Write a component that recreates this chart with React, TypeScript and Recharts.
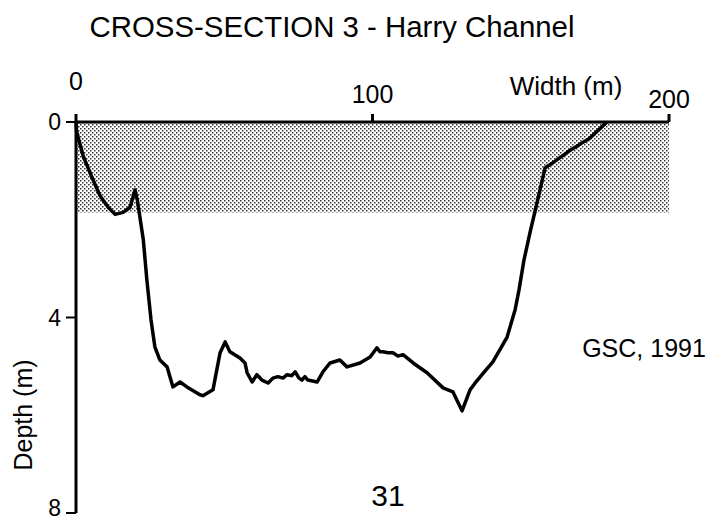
import { LineChart, Line, XAxis, YAxis, ReferenceArea } from "recharts";

const widthM = [
  0, 0.2, 2.5, 5.3, 8.1, 10.9, 13.2, 15.9, 18.2, 19.9, 20.7, 22.7, 23.9, 25.3,
  26.6, 28.3, 30.7, 32.7, 35.1, 37.4, 41.8, 42.8, 46.2, 48.6, 50.3, 51.9, 55.3,
  57.0, 57.7, 59.4, 61.0, 62.7, 64.8, 66.4, 68.1, 69.8, 71.2, 72.8, 73.9, 75.2,
  76.2, 77.2, 78.2, 81.3, 83.3, 85.7, 89.0, 91.4, 95.8, 99.2, 101.5, 102.5,
  103.5, 105.2, 106.9, 108.6, 110.3, 113.7, 118.4, 123.8, 127.1, 130.2, 132.9,
  134.5, 137.5, 140.6, 145.4, 148.1, 149.4, 151.1, 153.1, 156.5, 158.2, 161.6,
  165.9, 173.3, 179.1,
];
const depthM = [
  0, 0.2, 0.71, 1.12, 1.51, 1.75, 1.89, 1.85, 1.75, 1.39, 1.6, 2.41, 3.23, 4.05,
  4.6, 4.87, 5.01, 5.42, 5.32, 5.42, 5.58, 5.6, 5.48, 4.72, 4.5, 4.7, 4.83,
  4.93, 5.13, 5.32, 5.17, 5.28, 5.34, 5.24, 5.21, 5.24, 5.17, 5.19, 5.11, 5.24,
  5.28, 5.21, 5.28, 5.32, 5.11, 4.93, 4.87, 5.01, 4.93, 4.81, 4.62, 4.7, 4.7,
  4.72, 4.72, 4.79, 4.76, 4.93, 5.13, 5.44, 5.52, 5.91, 5.48, 5.35, 5.13, 4.91,
  4.4, 3.84, 3.44, 2.82, 2.27, 1.39, 0.94, 0.8, 0.61, 0.33, 0,
];
const widthTicks = [0, 100, 200];
const depthTicks = [0, 4, 8];
// shaded band (surface layer)
const bandDepth = 1.85;

const data = widthM.map((w, i) => ({ width: w, depth: depthM[i] }));

const FONT = '"Liberation Sans", Arial, Helvetica, sans-serif';

// the top labels sit at uneven heights in the original
const xTickOffset: Record<number, number> = { 0: -22, 100: -9, 200: -4 };

function WidthTick(props: any) {
  const { x, y, payload } = props;
  return (
    <text
      x={x}
      y={y + (xTickOffset[payload.value] ?? 0)}
      textAnchor="middle"
      fontSize={25}
      fontFamily={FONT}
      fill="#000"
    >
      {payload.value}
    </text>
  );
}

export default function App() {
  return (
    <div style={{ position: "fixed", left: 0, top: 0, background: "#fff" }}>
      <LineChart
        width={720}
        height={521}
        data={data}
        margin={{ top: 82, right: 51, bottom: 8, left: 16 }}
      >
        <defs>
          <pattern id="dots" width="4" height="4" patternUnits="userSpaceOnUse">
            <rect width="4" height="4" fill="#fff" />
            <rect x="0" y="0" width="1.5" height="1.5" fill="#333" />
            <rect x="2" y="2" width="1.5" height="1.5" fill="#333" />
          </pattern>
        </defs>
        <XAxis
          type="number"
          dataKey="width"
          orientation="top"
          domain={[0, 200]}
          ticks={widthTicks}
          height={40}
          tickSize={8}
          tick={<WidthTick />}
          axisLine={{ stroke: "#000", strokeWidth: 3 }}
          tickLine={{ stroke: "#000", strokeWidth: 3 }}
        />
        <YAxis
          type="number"
          domain={[0, 8]}
          reversed
          ticks={depthTicks}
          width={60}
          tickSize={10}
          tickMargin={5}
          tick={{ fill: "#000", fontSize: 23, fontFamily: FONT }}
          axisLine={{ stroke: "#000", strokeWidth: 3 }}
          tickLine={{ stroke: "#000", strokeWidth: 2 }}
        />
        <ReferenceArea
          x1={0}
          x2={200}
          y1={0}
          y2={bandDepth}
          fill="url(#dots)"
          fillOpacity={1}
          stroke="none"
        />
        <Line
          type="linear"
          dataKey="depth"
          stroke="#000"
          strokeWidth={3.5}
          dot={false}
          isAnimationActive={false}
          strokeLinejoin="round"
        />
        <text x={332} y={37} textAnchor="middle" fontSize={30} fontFamily={FONT} fill="#000" textLength={485} lengthAdjust="spacingAndGlyphs">
          CROSS-SECTION 3 - Harry Channel
        </text>
        <text x={566} y={95} textAnchor="middle" fontSize={26} fontFamily={FONT} fill="#000">
          Width (m)
        </text>
        <text x={644} y={357} textAnchor="middle" fontSize={25} fontFamily={FONT} fill="#000">
          GSC, 1991
        </text>
        <text x={388} y={506} textAnchor="middle" fontSize={30} fontFamily={FONT} fill="#000">
          31
        </text>
        <text
          x={0}
          y={0}
          transform="translate(32 415) rotate(-90)"
          textAnchor="middle"
          fontSize={25}
          fontFamily={FONT}
          fill="#000"
        >
          Depth (m)
        </text>
      </LineChart>
    </div>
  );
}
